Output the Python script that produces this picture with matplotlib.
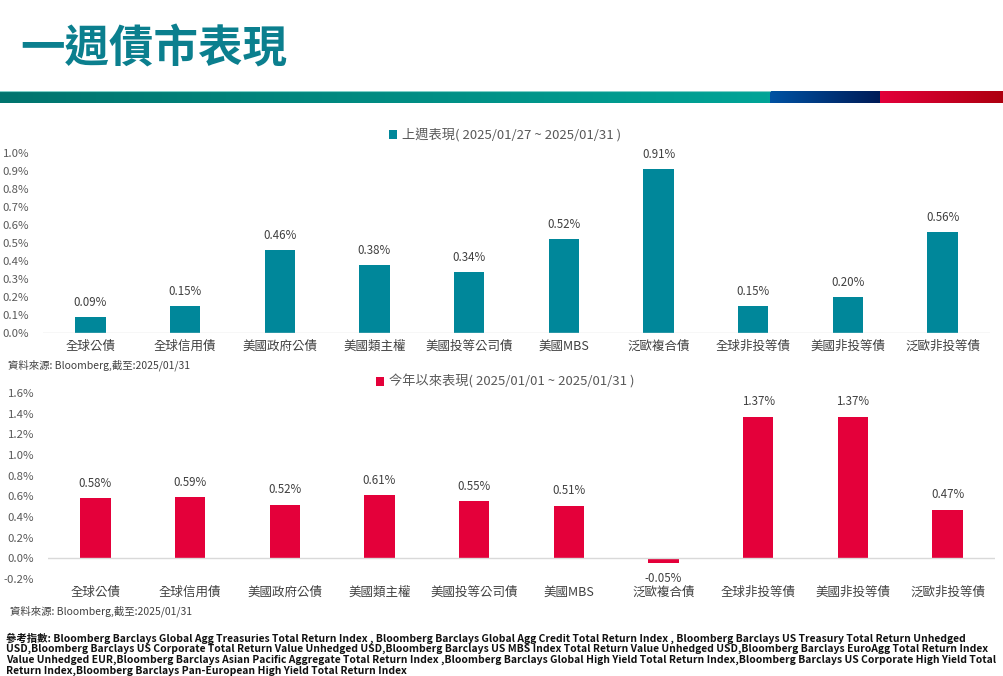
import numpy as np
import matplotlib
matplotlib.use('Agg')
import matplotlib.pyplot as plt
from matplotlib.colors import LinearSegmentedColormap

plt.rcParams['font.family'] = ['Noto Sans CJK TC', 'DejaVu Sans']

categories_week = ['全球公債', '全球信用債', '美國政府公債', '美國類主權', '美國投等公司債',
                   '美國MBS', '泛歐複合債', '全球非投等債', '美國非投等債', '泛歐非投等債']
week_values = [0.09, 0.15, 0.46, 0.38, 0.34, 0.52, 0.91, 0.15, 0.20, 0.56]

categories_ytd = ['全球公債', '全球信用債', '美國政府公債', '美國類主權', '美國投等公司債',
                  '美國MBS', '泛歐複合債', '全球非投等債', '美國非投等債', '泛歐非投等債']
ytd_values = [0.58, 0.59, 0.52, 0.61, 0.55, 0.51, -0.05, 1.37, 1.37, 0.47]

week_ticks = [0.0, 0.1, 0.2, 0.3, 0.4, 0.5, 0.6, 0.7, 0.8, 0.9, 1.0]
ytd_ticks = [-0.2, 0.0, 0.2, 0.4, 0.6, 0.8, 1.0, 1.2, 1.4, 1.6]

week_label = '上週表現( 2025/01/27 ~ 2025/01/31 )'
ytd_label = '今年以來表現( 2025/01/01 ~ 2025/01/31 )'
source = '資料來源: Bloomberg,截至:2025/01/31'
title = '一週債市表現'
footnote = [
    '參考指數: Bloomberg Barclays Global Agg Treasuries Total Return Index , Bloomberg Barclays Global Agg Credit Total Return Index , Bloomberg Barclays US Treasury Total Return Unhedged',
    'USD,Bloomberg Barclays US Corporate Total Return Value Unhedged USD,Bloomberg Barclays US MBS Index Total Return Value Unhedged USD,Bloomberg Barclays EuroAgg Total Return Index',
    'Value Unhedged EUR,Bloomberg Barclays Asian Pacific Aggregate Total Return Index ,Bloomberg Barclays Global High Yield Total Return Index,Bloomberg Barclays US Corporate High Yield Total',
    'Return Index,Bloomberg Barclays Pan-European High Yield Total Return Index',
]

TEAL = '#00879a'
RED = '#e4003a'
W, H = 1004, 676

fig = plt.figure(figsize=(W / 100, H / 100), dpi=100)

# title
fig.text(20 / W, 1 - 50 / H, title, fontsize=32, fontweight='bold', color='#0b7f8e',
         va='center', ha='left')

# gradient band under the title
band = fig.add_axes([0, 1 - 103 / H, 1, 12 / H])
band.axis('off')
segs = [(0, 770, '#00746e', '#00a497'), (770, 880, '#0052a3', '#001b57'), (880, 1004, '#e3003b', '#ad000f')]
for x0, x1, c0, c1 in segs:
    cmap = LinearSegmentedColormap.from_list('g', [c0, c1])
    band.imshow(np.linspace(0, 1, 256)[None, :], cmap=cmap, aspect='auto',
                extent=(x0, x1, 0, 1))
band.set_xlim(0, W)
band.set_ylim(0, 1)
band.axhline(0.96, xmax=770 / W, color='#7fcfc8', lw=0.8)


def bar_panel(rect, cats, vals, ticks, color, label, legend_y):
    ax = fig.add_axes(rect)
    x = np.arange(len(cats))
    bars = ax.bar(x, vals, width=0.32, color=color, label=label)
    ax.set_xlim(-0.5, len(cats) - 0.5)
    ax.set_ylim(ticks[0], ticks[-1])
    ax.set_yticks(ticks)
    ax.set_yticklabels(['{:.1f}%'.format(t) for t in ticks], fontsize=8.2, color='#595959')
    ax.set_xticks(x)
    ax.set_xticklabels(cats, fontsize=9, color='#404040')
    ax.tick_params(length=0, axis='y', pad=10)
    ax.tick_params(length=0, axis='x', pad=5)
    for s in ['top', 'right', 'left', 'bottom']:
        ax.spines[s].set_visible(False)
    ax.axhline(0, color='#d9d9d9', lw=1)
    span = ticks[-1] - ticks[0]
    for xi, v in zip(x, vals):
        if v >= 0:
            ax.text(xi, v + span * 0.045, '{:.2f}%'.format(v), ha='center', va='bottom',
                    fontsize=8.3, color='#404040')
        else:
            ax.text(xi, v - span * 0.045, '{:.2f}%'.format(v), ha='center', va='top',
                    fontsize=8.3, color='#404040')
    fig.legend(handles=[bars], labels=[label], loc='center',
               bbox_to_anchor=(505 / W, 1 - legend_y / H), frameon=False,
               fontsize=9.5, labelcolor='#595959', handlelength=0.6, handleheight=0.6,
               handletextpad=0.4)
    return ax


bar_panel([43 / W, 1 - 333 / H, 947 / W, 180 / H], categories_week, week_values,
          week_ticks, TEAL, week_label, 135)
fig.text(8 / W, 1 - 365 / H, source, fontsize=7.5, color='#404040', va='center')

bar_panel([48 / W, 1 - 579 / H, 947 / W, 186 / H], categories_ytd, ytd_values,
          ytd_ticks, RED, ytd_label, 382)
fig.text(10 / W, 1 - 611 / H, source, fontsize=7.5, color='#404040', va='center')

# footnote, shrunk so the longest line fits the width of the reference
fam = ['Liberation Sans Narrow', 'DejaVu Sans Condensed', 'Noto Sans CJK TC']
renderer = fig.canvas.get_renderer()
fs = 8.0
widest = 0
for line in footnote:
    probe = fig.text(0, 0, line, fontsize=fs, family=fam, fontweight='bold')
    widest = max(widest, probe.get_window_extent(renderer).width)
    probe.remove()
if widest > 990:
    fs = fs * 990 / widest
for i, line in enumerate(footnote):
    fig.text(6 / W, 1 - (638 + i * 10.8) / H, line, fontsize=fs, family=fam,
             fontweight='bold', color='#111111', va='center')

fig.savefig('out.png', dpi=100)
